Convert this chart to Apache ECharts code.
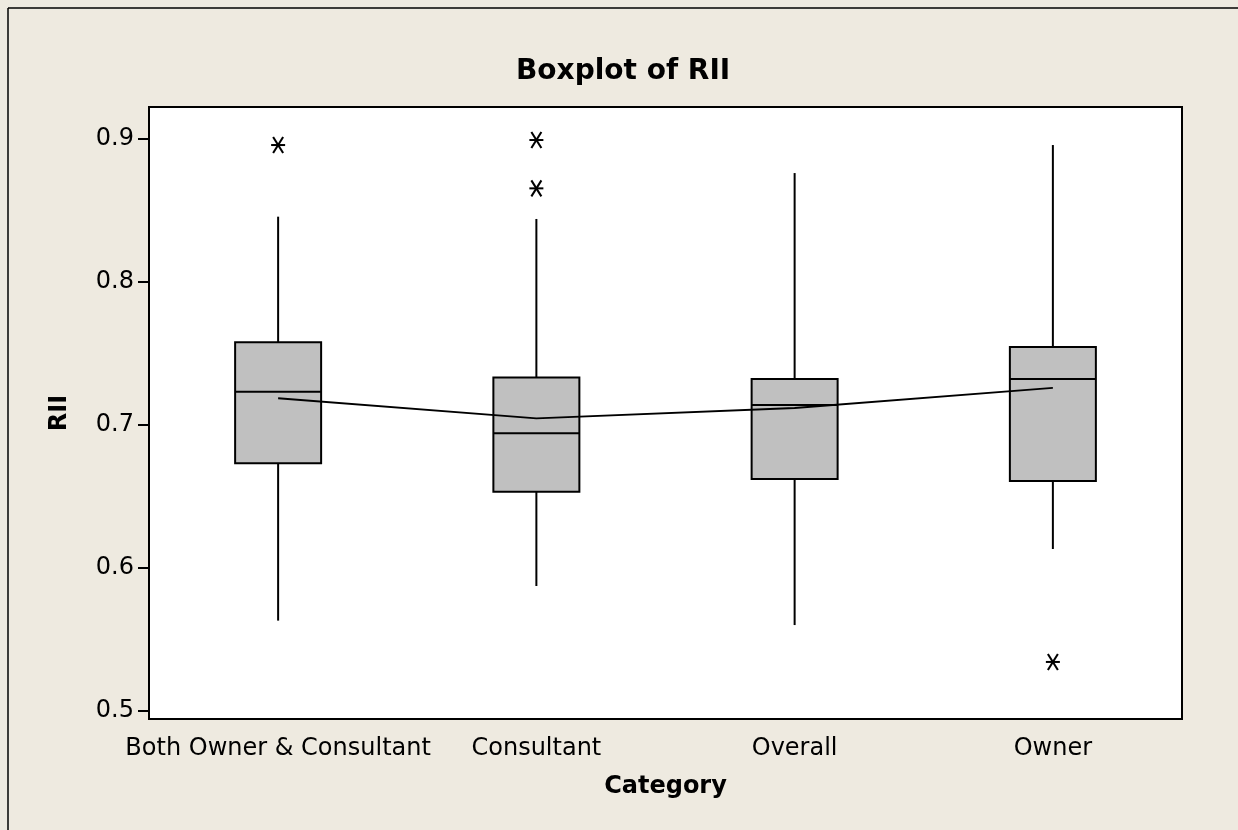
<!DOCTYPE html>
<html>
<head>
<meta charset="utf-8">
<title>Boxplot of RII</title>
<script src="https://cdn.jsdelivr.net/npm/echarts@6/dist/echarts.min.js"></script>
<style>
  html, body { margin: 0; padding: 0; background: #EEEAE0; }
  #chart { width: 1238px; height: 830px; }
</style>
</head>
<body>
<div id="chart"></div>
<script>
// Categories and five-number summaries of RII per respondent group
const categories = ['Both Owner & Consultant', 'Consultant', 'Overall', 'Owner'];
const whiskerLow  = [0.5632, 0.5874, 0.5601, 0.6133];
const q1          = [0.6732, 0.6534, 0.6622, 0.6608];
const median      = [0.7233, 0.6942, 0.7140, 0.7322];
const q3          = [0.7578, 0.7333, 0.7322, 0.7545];
const whiskerHigh = [0.8457, 0.8441, 0.8762, 0.8958];
const means       = [0.7187, 0.7046, 0.7119, 0.7259];
// Outliers as [category index, value]
const outlierCat   = [0, 1, 1, 3];
const outlierValue = [0.8958, 0.8993, 0.8655, 0.5343];
// Y tick labels
const yTicks = [0.5, 0.6, 0.7, 0.8, 0.9];

const boxData = categories.map((c, i) => [i, whiskerLow[i], q1[i], median[i], q3[i], whiskerHigh[i]]);
const outlierData = outlierCat.map((c, i) => [c, outlierValue[i]]);

const FONT = 'DejaVu Sans';
const chart = echarts.init(document.getElementById('chart'), null, { renderer: 'canvas' });

// Box, median bar and whiskers (no end caps)
function renderBox(params, api) {
  const x = api.value(0);
  const pLow = api.coord([x, api.value(1)]);
  const pQ1 = api.coord([x, api.value(2)]);
  const pMed = api.coord([x, api.value(3)]);
  const pQ3 = api.coord([x, api.value(4)]);
  const pHigh = api.coord([x, api.value(5)]);
  const half = api.size([1, 0])[0] * 0.333 / 2;
  const cx = pQ1[0];
  const stroke = { stroke: '#000', lineWidth: 2 };
  return {
    type: 'group',
    children: [
      { type: 'line', shape: { x1: cx, y1: pLow[1], x2: cx, y2: pQ1[1] }, style: stroke },
      { type: 'line', shape: { x1: cx, y1: pQ3[1], x2: cx, y2: pHigh[1] }, style: stroke },
      { type: 'rect', shape: { x: cx - half, y: pQ3[1], width: half * 2, height: pQ1[1] - pQ3[1] },
        style: { fill: '#C0C0C0', stroke: '#000', lineWidth: 2 } },
      { type: 'line', shape: { x1: cx - half, y1: pMed[1], x2: cx + half, y2: pMed[1] }, style: stroke }
    ]
  };
}

// Asterisk marker for outliers
function renderStar(params, api) {
  const p = api.coord([api.value(0), api.value(1)]);
  const s = { stroke: '#000', lineWidth: 2 };
  return {
    type: 'group',
    children: [
      { type: 'line', shape: { x1: p[0] - 7, y1: p[1], x2: p[0] + 7, y2: p[1] }, style: s },
      { type: 'line', shape: { x1: p[0] - 5, y1: p[1] - 8, x2: p[0] + 5, y2: p[1] + 8 }, style: s },
      { type: 'line', shape: { x1: p[0] + 5, y1: p[1] - 8, x2: p[0] - 5, y2: p[1] + 8 }, style: s }
    ]
  };
}

const option = {
  backgroundColor: '#EEEAE0',
  animation: false,
  title: {
    text: 'Boxplot of RII',
    left: 511,
    top: 53,
    textStyle: { fontFamily: FONT, fontSize: 28, fontWeight: 'bold', color: '#000' }
  },
  grid: {
    left: 149, right: 56, top: 107, bottom: 111,
    show: true, backgroundColor: '#fff', borderColor: '#000', borderWidth: 2
  },
  xAxis: {
    type: 'category',
    data: categories,
    boundaryGap: true,
    name: 'Category',
    nameLocation: 'middle',
    nameGap: 56,
    nameTextStyle: { fontFamily: FONT, fontSize: 24, fontWeight: 'bold', color: '#000' },
    axisLine: { lineStyle: { color: '#000', width: 2 } },
    axisTick: { alignWithLabel: true, interval: 0, length: 11, lineStyle: { color: '#000', width: 2 } },
    axisLabel: { fontFamily: FONT, fontSize: 24, color: '#000', margin: 18, interval: 0, hideOverlap: false },
    splitLine: { show: false }
  },
  yAxis: {
    type: 'value',
    min: 0.4944,
    max: 0.9224,
    name: 'RII',
    nameLocation: 'middle',
    nameGap: 77,
    nameRotate: 90,
    nameTextStyle: { fontFamily: FONT, fontSize: 24, fontWeight: 'bold', color: '#000' },
    axisLine: { show: true, lineStyle: { color: '#000', width: 2 } },
    axisTick: { show: true, length: 11, customValues: yTicks, lineStyle: { color: '#000', width: 2 } },
    axisLabel: {
      fontFamily: FONT, fontSize: 24, color: '#000', margin: 15,
      customValues: yTicks,
      formatter: v => v.toFixed(1)
    },
    splitLine: { show: false }
  },
  graphic: [
    { type: 'line', shape: { x1: 8, y1: 8, x2: 1238, y2: 8 }, style: { stroke: '#000', lineWidth: 1.5 }, silent: true },
    { type: 'line', shape: { x1: 8, y1: 8, x2: 8, y2: 830 }, style: { stroke: '#000', lineWidth: 1.5 }, silent: true }
  ],
  series: [
    {
      type: 'custom',
      name: 'Box',
      renderItem: renderBox,
      data: boxData,
      encode: { x: 0, y: [1, 2, 3, 4, 5] },
      z: 2
    },
    {
      type: 'line',
      name: 'Mean',
      data: means,
      symbol: 'none',
      lineStyle: { color: '#000', width: 1.8 },
      z: 3
    },
    {
      type: 'custom',
      name: 'Outlier',
      renderItem: renderStar,
      data: outlierData,
      encode: { x: 0, y: 1 },
      z: 4
    }
  ]
};

chart.setOption(option);
</script>
</body>
</html>
